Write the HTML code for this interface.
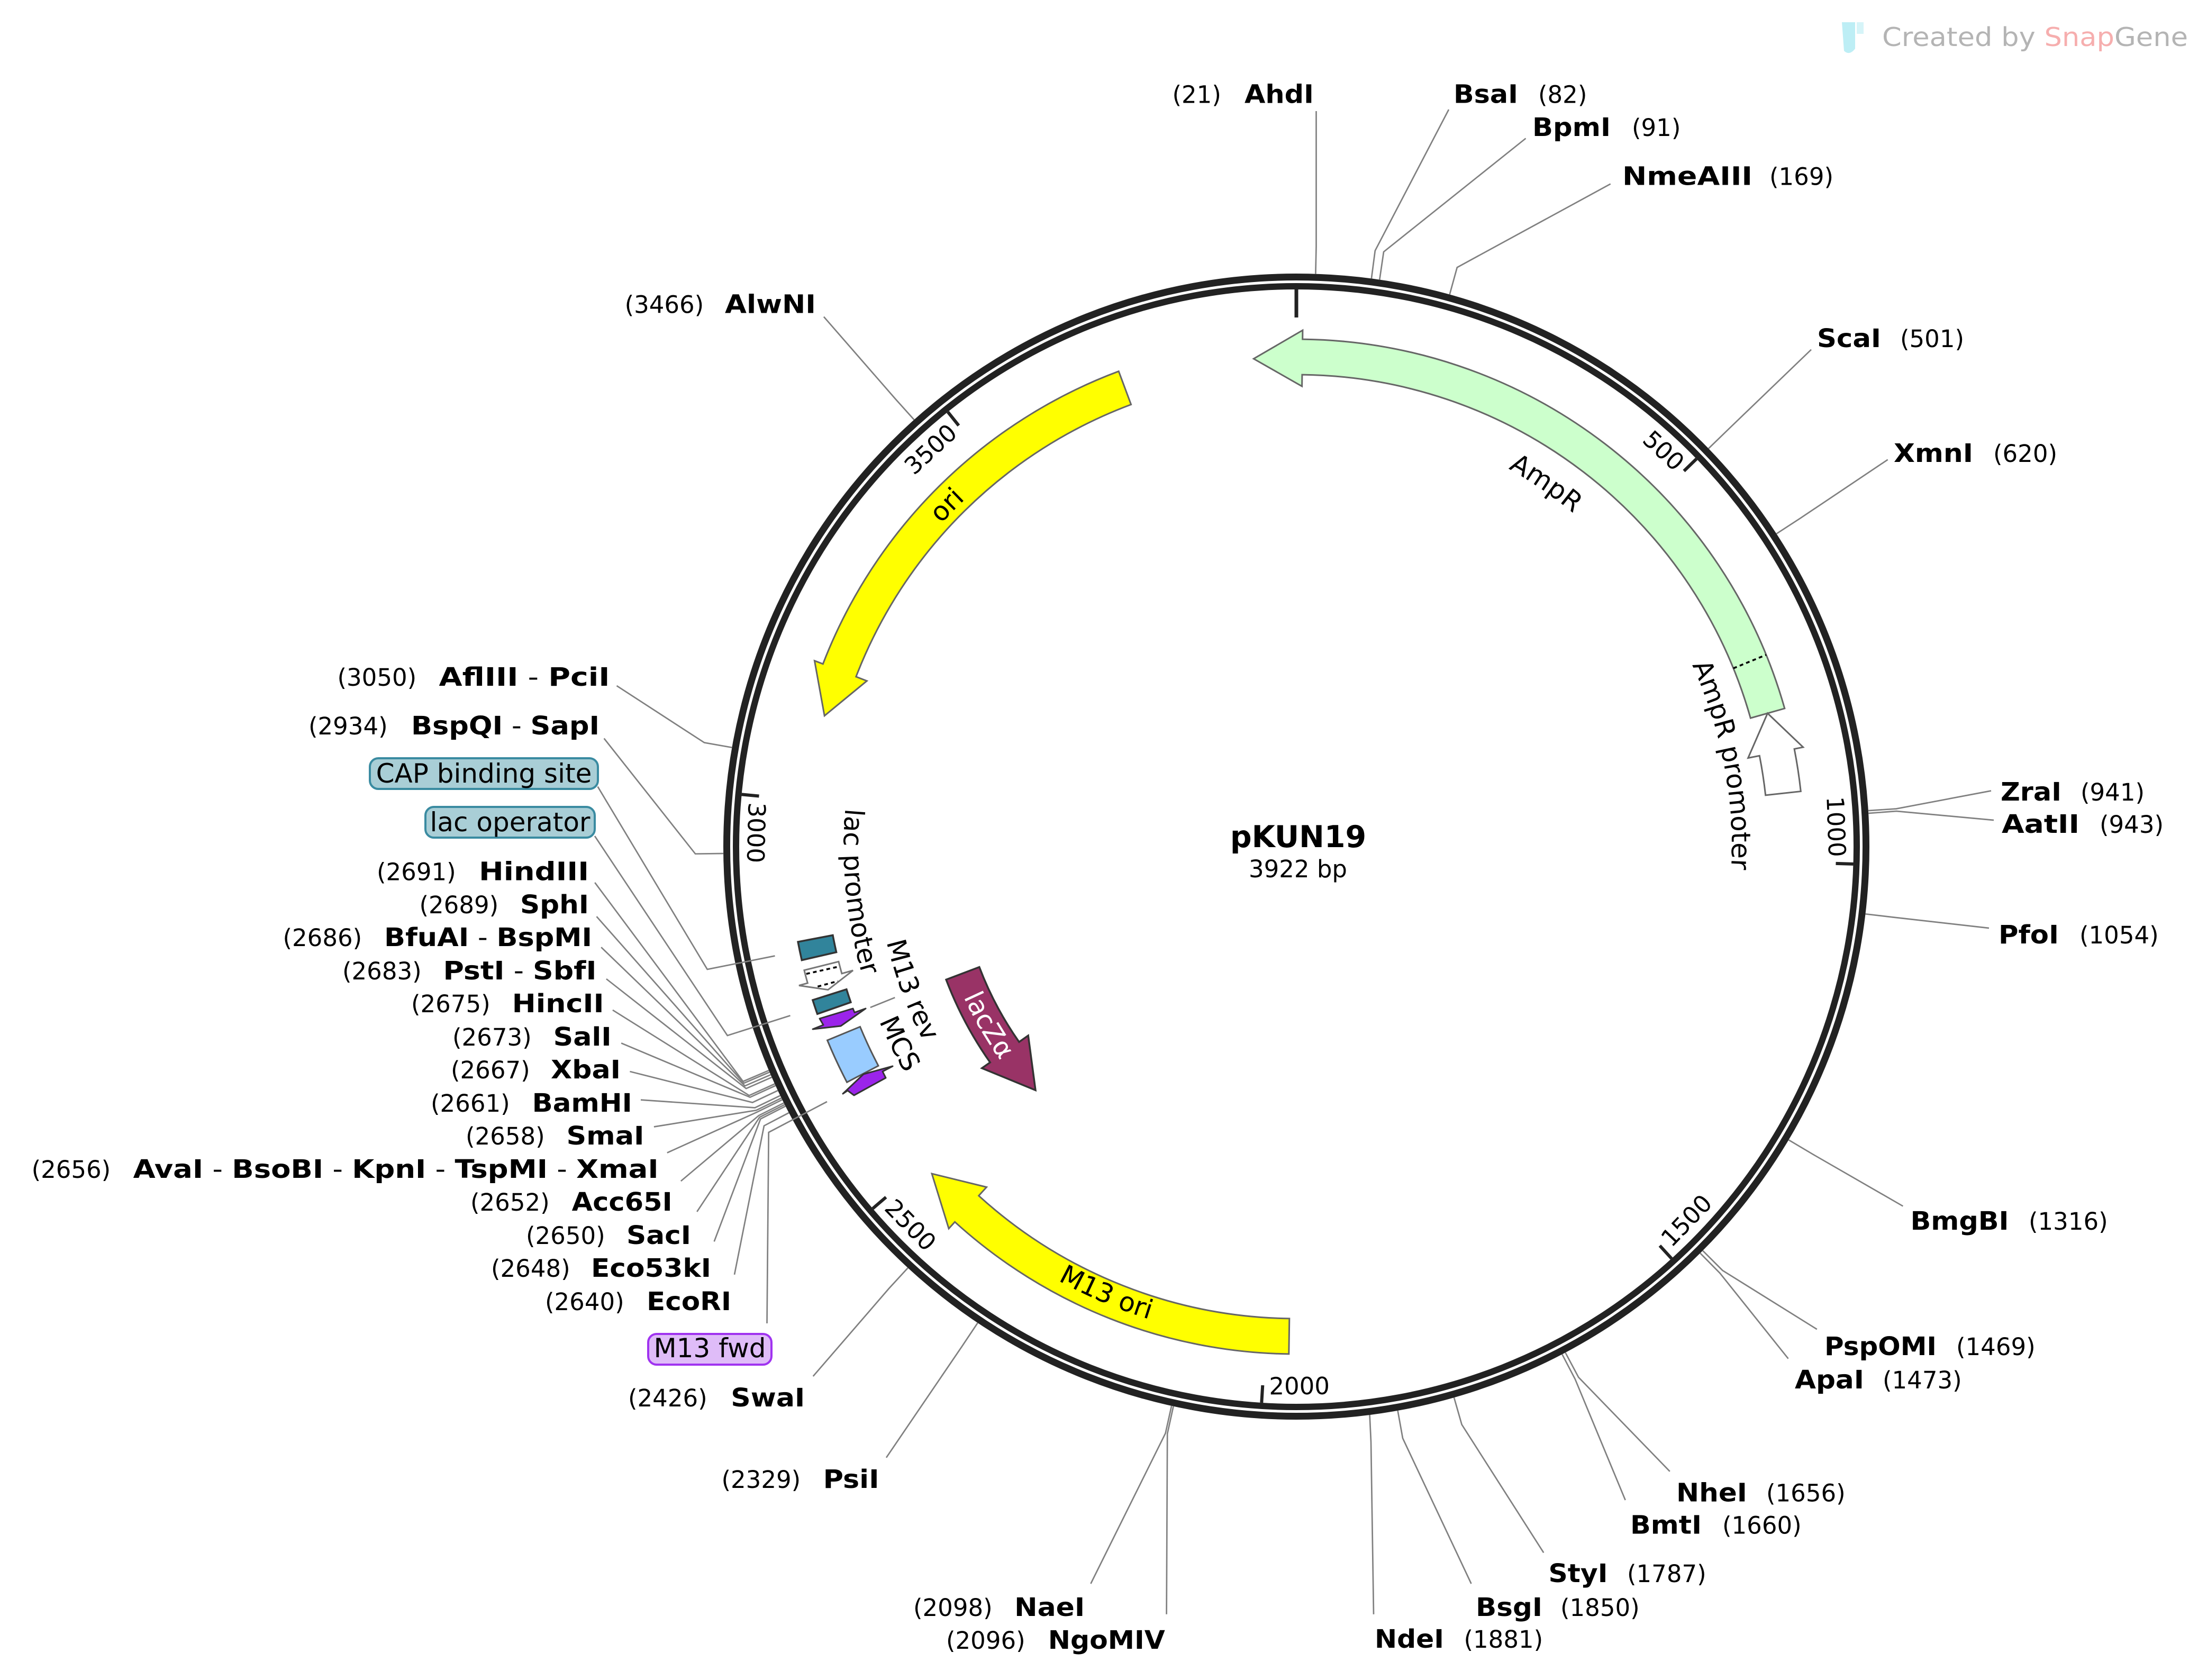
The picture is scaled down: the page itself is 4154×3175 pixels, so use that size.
<!DOCTYPE html>
<html><head><meta charset="utf-8">
<style>
html,body{margin:0;padding:0;background:#fff;}
svg{display:block;}
text{font-family:"DejaVu Sans","Liberation Sans",sans-serif;fill:#000;}
.n{font-size:45px;}
.b{font-size:48px;font-weight:bold;}
.f{font-size:50px;}
.ld{stroke:#808080;stroke-width:2.7;fill:none;}
</style></head><body>
<svg width="4154" height="3175" viewBox="0 0 4154 3175">
<rect x="0" y="0" width="4154" height="3175" fill="#fff"/>

<!-- logo -->
<path d="M3481,42 L3506,42 L3506,92 Q3495,106 3485,96 Z" fill="#bdeef5"/>
<rect x="3509" y="42" width="13" height="22" fill="#d6f4f8"/>
<text x="3557" y="87" font-size="49" textLength="578" lengthAdjust="spacingAndGlyphs" style="fill:#b4b4b4">Created by <tspan style="fill:#f6aeae">Snap</tspan>Gene</text>

<!-- paths for curved labels -->
<defs>
<path id="pAmpR" d="M2450,781 A819,819 0 0 1 3214.6,1306.5"/>
<path id="pAmpRp" d="M2969.6,962 A823,823 0 0 1 3168.4,2001.5"/>
<path id="pOri" d="M1571.2,1375 A907,907 0 0 1 2204.6,726.9"/>
<path id="pM13ori" d="M1702.5,2162.5 A935.4,935.4 0 0 0 2563.3,2528.5"/>
<path id="pLacZ" d="M1760,1601.2 A690,690 0 0 0 2106,2198.1"/>
<path id="pLacP" d="M1669.2,1250.7 A856,856 0 0 0 1755.8,2100.7"/>
<path id="pM13rev" d="M1666.1,1467.5 A795,795 0 0 0 1943.3,2212.6"/>
<path id="pMCS" d="M1597.1,1546.4 A854.6,854.6 0 0 0 1977.1,2311.8"/>
</defs>

<!-- ring -->
<circle cx="2450" cy="1600" r="1076.5" fill="none" stroke="#222" stroke-width="13"/>
<circle cx="2450" cy="1600" r="1059" fill="none" stroke="#222" stroke-width="12"/>

<!-- ticks -->
<g stroke="#222" stroke-width="6">
<line x1="2450" y1="547" x2="2450" y2="600" stroke-width="7"/>
<line x1="3182.5" y1="890.2" x2="3206.2" y2="867.2"/>
<line x1="3469.5" y1="1631.9" x2="3502.5" y2="1632.9"/>
<line x1="3136.8" y1="2354.1" x2="3159.1" y2="2378.5"/>
<line x1="2386.3" y1="2618" x2="2384.3" y2="2650.9"/>
<line x1="1674.5" y1="2262.5" x2="1649.4" y2="2284"/>
<line x1="1434.5" y1="1504.5" x2="1401.6" y2="1501.4"/>
<line x1="1811.9" y1="804.2" x2="1791.3" y2="778.5"/>
</g>
<g class="n" text-anchor="middle">
<text transform="translate(3144.2,851.3) rotate(42.83)" dy="16">500</text>
<text transform="translate(3470.3,1562.4) rotate(87.89)" dy="16">1000</text>
<text transform="translate(3187.1,2306.5) rotate(-46.22)" dy="16">1500</text>
<text transform="translate(2455.7,2619) rotate(-0.32)" dy="16">2000</text>
<text transform="translate(1721,2314.9) rotate(45.58)" dy="16">2500</text>
<text transform="translate(1429.3,1573.8) rotate(91.47)" dy="16">3000</text>
<text transform="translate(1758.6,848.7) rotate(-42.63)" dy="16">3500</text>
</g>

<!-- features -->
<path d="M3372.8,1338.9 A959,959 0 0 0 2461.7,641.1 L2461.9,624.1 L2369.3,678 L2460.6,730.1 L2460.9,708.1 A892,892 0 0 1 3308.3,1357.1 Z" fill="#ccffcc" stroke="#666" stroke-width="3"/>
<line x1="3275.9" y1="1263" x2="3337.9" y2="1237.6" stroke="#000" stroke-width="3.5" stroke-dasharray="7,6"/>
<path d="M3403.3,1495.6 A959,959 0 0 0 3391.1,1415.4 L3407.7,1412.1 L3340.5,1348 L3303.7,1432.5 L3325.3,1428.3 A892,892 0 0 1 3336.7,1502.9 Z" fill="#fff" stroke="#666" stroke-width="3"/>
<path d="M2114.2,701.7 A959,959 0 0 0 1555.3,1254.8 L1539.4,1248.7 L1558.2,1352.7 L1638.3,1286.8 L1617.8,1278.9 A892,892 0 0 1 2137.6,764.5 Z" fill="#ffff00" stroke="#666" stroke-width="3"/>
<path d="M2435.8,2558.9 A959,959 0 0 1 1804.6,2309.3 L1793.1,2321.9 L1761.1,2218.1 L1864.5,2243.5 L1849.7,2259.8 A892,892 0 0 0 2436.8,2491.9 Z" fill="#ffff00" stroke="#666" stroke-width="3"/>
<path d="M1788.1,1851.4 A708,708 0 0 0 1871.2,2007.8 L1855.7,2018.7 L1957,2060.4 L1943.2,1957.1 L1926,1969.2 A641,641 0 0 1 1850.8,1827.6 Z" fill="#993366" stroke="#333" stroke-width="3.5"/>
<path d="M1508.1,1780 A959,959 0 0 0 1515.3,1814.6 L1580.6,1799.6 A892,892 0 0 1 1573.9,1767.4 Z" fill="#31849b" stroke="#333" stroke-width="3.5"/>
<path d="M1519.9,1833.6 A959,959 0 0 0 1526.3,1857.9 L1510,1862.5 L1564.9,1870.6 L1612.1,1834 L1590.9,1839.9 A892,892 0 0 1 1584.9,1817.3 Z" fill="#fff" stroke="#777" stroke-width="3"/>
<line x1="1523.8" y1="1840.5" x2="1586.8" y2="1826.4" stroke="#000" stroke-width="3.5" stroke-dasharray="7,6"/>
<line x1="1545.3" y1="1864.5" x2="1583.5" y2="1854.2" stroke="#000" stroke-width="3.5" stroke-dasharray="7,6"/>
<path d="M1535.9,1890 A959,959 0 0 0 1544.7,1916.3 L1607.9,1894.2 A892,892 0 0 1 1599.8,1869.7 Z" fill="#31849b" stroke="#333" stroke-width="3.5"/>
<polygon points="1549,1925 1612,1906 1615,1913.5 1636,1906 1589,1939 1536,1945 1556,1937" fill="#9b24ea" stroke="#333" stroke-width="3" stroke-linejoin="round"/>
<path d="M1563.6,1966 L1625.5,1940.4 A892,892 0 0 0 1660,2014.2 L1600.6,2045.3 A959,959 0 0 1 1563.6,1966 Z" fill="#99ccff" stroke="#555" stroke-width="3"/>
<polygon points="1593,2067 1632,2030 1687,2015 1668,2025 1674,2037 1614,2070 1602,2061" fill="#9b24ea" stroke="#333" stroke-width="3" stroke-linejoin="round"/>

<!-- feature labels -->
<text class="f"><textPath href="#pAmpR" startOffset="50%" text-anchor="middle">AmpR</textPath></text>
<text class="f"><textPath href="#pAmpRp" startOffset="50%" text-anchor="middle">AmpR promoter</textPath></text>
<text class="f"><textPath href="#pOri" startOffset="50%" text-anchor="middle">ori</textPath></text>
<text class="f"><textPath href="#pM13ori" startOffset="50%" text-anchor="middle">M13 ori</textPath></text>
<text class="f" style="fill:#fff"><textPath href="#pLacZ" startOffset="50%" text-anchor="middle" style="fill:#fff">lacZα</textPath></text>
<text class="f"><textPath href="#pLacP" startOffset="50%" text-anchor="middle">lac promoter</textPath></text>
<text class="f"><textPath href="#pM13rev" startOffset="50%" text-anchor="middle">M13 rev</textPath></text>
<text class="f"><textPath href="#pMCS" startOffset="50%" text-anchor="middle">MCS</textPath></text>

<!-- center title -->
<text x="2453.5" y="1601" font-size="57" font-weight="bold" text-anchor="middle">pKUN19</text>
<text x="2453" y="1658" font-size="45" text-anchor="middle">3922 bp</text>

<!-- leader lines -->
<g class="ld">
<polyline points="2591.9,526.3 2598.8,473.8 2738,207"/>
<polyline points="2607.3,528.5 2615,476 2883.5,261.5"/>
<polyline points="2739.7,556.5 2753.8,505.4 3043.7,347.6"/>
<polyline points="2486.4,517.6 2487.5,466 2487.5,210"/>
<polyline points="3229,847.6 3267,810.8 3423,660.7"/>
<polyline points="3357.3,1008.8 3401.7,979.9 3567.7,868.6"/>
<polyline points="3530.8,1532 3583.7,1528.5 3763,1494.5"/>
<polyline points="3531.1,1537 3584,1533 3768,1550"/>
<polyline points="3525.5,1727.3 3578.1,1733.5 3759,1754"/>
<polyline points="3380.4,2154.3 3426,2181.4 3596.4,2279.5"/>
<polyline points="3218,2363.6 3255.5,2401 3433.8,2512.2"/>
<polyline points="3213.3,2368.4 3250.4,2406 3379.6,2567.7"/>
<polyline points="2958.4,2556.2 2983.3,2603 3155.8,2780.8"/>
<polyline points="2952.3,2559.5 2976.8,2606.4 3071.7,2835"/>
<polyline points="2748,2641.2 2762.6,2692.2 2917.3,2934.4"/>
<polyline points="2641.6,2665.9 2651,2718.1 2780.5,2993"/>
<polyline points="2588.6,2674 2591,2725 2596,3050.8"/>
<polyline points="2217.6,2657.8 2206.2,2709.5 2204.6,3050.8"/>
<polyline points="2214.1,2657 2202.6,2708.7 2061.4,2993"/>
<polyline points="1847.7,2500.1 1818.3,2544.1 1675,2754.7"/>
<polyline points="1715.8,2396.2 1679.9,2435.2 1536.7,2601"/>
<polyline points="1727.5,793.2 1692,753.7 1556.9,598.6"/>
<polyline points="1383.3,1412.7 1331.1,1403.5 1165.5,1296"/>
<polyline points="1367.1,1613 1314.1,1613.7 1141.6,1395.5"/>
<polyline points="1129.6,1486.6 1336.7,1832 1464.5,1806.5"/>
<polyline points="1124,1580 1374.7,1957 1493.5,1919.3"/>
<polyline points="1449.5,2501 1452.7,2140 1563,2082"/>
<polyline points="1644.8,1904 1691.3,1885.3"/>
<polyline points="1124.2,1667.9 1404.3,2043.8 1453,2023"/>
<polyline points="1127.5,1732.1 1405.7,2047.1 1454.4,2026.2"/>
<polyline points="1136.2,1790.2 1407.9,2052.2 1456.5,2031.1"/>
<polyline points="1145.9,1850 1410.1,2057.2 1458.6,2035.9"/>
<polyline points="1157.9,1908.9 1415.9,2070.4 1464.2,2048.4"/>
<polyline points="1174.1,1971.4 1417.5,2073.7 1465.7,2051.6"/>
<polyline points="1190.4,2025 1422.1,2083.6 1470,2061"/>
<polyline points="1211,2078.6 1426.8,2093.5 1474.6,2070.5"/>
<polyline points="1235.9,2129.5 1429.2,2098.3 1476.8,2075.1"/>
<polyline points="1260.8,2178.6 1430.8,2101.7 1478.4,2078.3"/>
<polyline points="1286.8,2232.1 1434,2108.2 1481.4,2084.4"/>
<polyline points="1317.2,2290 1435.6,2111.4 1483,2087.6"/>
<polyline points="1349.7,2346.4 1437.3,2114.7 1484.5,2090.6"/>
<polyline points="1388,2408.9 1444,2127.6 1490.9,2103"/>
</g>

<!-- right / top labels -->
<text class="b" x="2747" y="194.5" textLength="122" lengthAdjust="spacingAndGlyphs">BsaI</text><text class="n" x="2907" y="194.5">(82)</text>
<text class="b" x="2896" y="257" textLength="148" lengthAdjust="spacingAndGlyphs">BpmI</text><text class="n" x="3084" y="257">(91)</text>
<text class="b" x="3066" y="349.5" textLength="246" lengthAdjust="spacingAndGlyphs">NmeAIII</text><text class="n" x="3344" y="349.5">(169)</text>
<text class="b" x="3434" y="656" textLength="121" lengthAdjust="spacingAndGlyphs">ScaI</text><text class="n" x="3591" y="656">(501)</text>
<text class="b" x="3579" y="873" textLength="150" lengthAdjust="spacingAndGlyphs">XmnI</text><text class="n" x="3767" y="873">(620)</text>
<text class="b" x="3781" y="1513" textLength="115" lengthAdjust="spacingAndGlyphs">ZraI</text><text class="n" x="3932" y="1513">(941)</text>
<text class="b" x="3783" y="1574" textLength="147" lengthAdjust="spacingAndGlyphs">AatII</text><text class="n" x="3968" y="1574">(943)</text>
<text class="b" x="3777" y="1783" textLength="114" lengthAdjust="spacingAndGlyphs">PfoI</text><text class="n" x="3930" y="1783">(1054)</text>
<text class="b" x="3610.5" y="2324" textLength="186" lengthAdjust="spacingAndGlyphs">BmgBI</text><text class="n" x="3834" y="2324">(1316)</text>
<text class="b" x="3448" y="2561" textLength="212" lengthAdjust="spacingAndGlyphs">PspOMI</text><text class="n" x="3697" y="2561">(1469)</text>
<text class="b" x="3392" y="2624" textLength="131" lengthAdjust="spacingAndGlyphs">ApaI</text><text class="n" x="3558" y="2624">(1473)</text>
<text class="b" x="3168" y="2837.5" textLength="134" lengthAdjust="spacingAndGlyphs">NheI</text><text class="n" x="3338" y="2837.5">(1656)</text>
<text class="b" x="3081" y="2898.5" textLength="135" lengthAdjust="spacingAndGlyphs">BmtI</text><text class="n" x="3255" y="2898.5">(1660)</text>
<text class="b" x="2926.5" y="2990" textLength="112" lengthAdjust="spacingAndGlyphs">StyI</text><text class="n" x="3075" y="2990">(1787)</text>
<text class="b" x="2789" y="3054" textLength="126" lengthAdjust="spacingAndGlyphs">BsgI</text><text class="n" x="2949" y="3054">(1850)</text>
<text class="b" x="2598" y="3114" textLength="131" lengthAdjust="spacingAndGlyphs">NdeI</text><text class="n" x="2766.5" y="3114">(1881)</text>

<!-- left / bottom labels -->
<g>
<text class="n" x="2215.5" y="194.5">(21)</text><text class="b" x="2483" y="194.5" text-anchor="end" textLength="131" lengthAdjust="spacingAndGlyphs">AhdI</text>
<text class="n" x="1180.6" y="591.6">(3466)</text><text class="b" x="1542" y="591.6" text-anchor="end" textLength="172" lengthAdjust="spacingAndGlyphs">AlwNI</text>
<text class="n" x="637.5" y="1296">(3050)</text><text class="b" x="1152.5" y="1296" text-anchor="end" textLength="323" lengthAdjust="spacingAndGlyphs">AflIII<tspan font-weight="normal"> - </tspan>PciI</text>
<text class="n" x="583" y="1388">(2934)</text><text class="b" x="1133" y="1388" text-anchor="end" textLength="356" lengthAdjust="spacingAndGlyphs">BspQI<tspan font-weight="normal"> - </tspan>SapI</text>

<text class="n" x="712" y="1663.4">(2691)</text><text class="b" x="1113" y="1663.4" text-anchor="end" textLength="208" lengthAdjust="spacingAndGlyphs">HindIII</text>
<text class="n" x="792.5" y="1726">(2689)</text><text class="b" x="1113" y="1726" text-anchor="end" textLength="130" lengthAdjust="spacingAndGlyphs">SphI</text>
<text class="n" x="534.5" y="1788">(2686)</text><text class="b" x="1119" y="1788" text-anchor="end" textLength="393" lengthAdjust="spacingAndGlyphs">BfuAI<tspan font-weight="normal"> - </tspan>BspMI</text>
<text class="n" x="647" y="1851">(2683)</text><text class="b" x="1127.5" y="1851" text-anchor="end" textLength="290" lengthAdjust="spacingAndGlyphs">PstI<tspan font-weight="normal"> - </tspan>SbfI</text>
<text class="n" x="777" y="1913">(2675)</text><text class="b" x="1141.6" y="1913" text-anchor="end" textLength="174" lengthAdjust="spacingAndGlyphs">HincII</text>
<text class="n" x="855" y="1976">(2673)</text><text class="b" x="1155.7" y="1976" text-anchor="end" textLength="110" lengthAdjust="spacingAndGlyphs">SalI</text>
<text class="n" x="852" y="2038">(2667)</text><text class="b" x="1173" y="2038" text-anchor="end" textLength="132" lengthAdjust="spacingAndGlyphs">XbaI</text>
<text class="n" x="814" y="2101">(2661)</text><text class="b" x="1194.7" y="2101" text-anchor="end" textLength="189" lengthAdjust="spacingAndGlyphs">BamHI</text>
<text class="n" x="880" y="2163">(2658)</text><text class="b" x="1217.5" y="2163" text-anchor="end" textLength="147" lengthAdjust="spacingAndGlyphs">SmaI</text>
<text class="n" x="59.6" y="2226">(2656)</text><text class="b" x="1244.6" y="2226" text-anchor="end" textLength="993" lengthAdjust="spacingAndGlyphs">AvaI<tspan font-weight="normal"> - </tspan>BsoBI<tspan font-weight="normal"> - </tspan>KpnI<tspan font-weight="normal"> - </tspan>TspMI<tspan font-weight="normal"> - </tspan>XmaI</text>
<text class="n" x="889" y="2288">(2652)</text><text class="b" x="1270.6" y="2288" text-anchor="end" textLength="190" lengthAdjust="spacingAndGlyphs">Acc65I</text>
<text class="n" x="994" y="2351">(2650)</text><text class="b" x="1306" y="2351" text-anchor="end" textLength="122" lengthAdjust="spacingAndGlyphs">SacI</text>
<text class="n" x="928" y="2413">(2648)</text><text class="b" x="1344" y="2413" text-anchor="end" textLength="227" lengthAdjust="spacingAndGlyphs">Eco53kI</text>
<text class="n" x="1030" y="2476">(2640)</text><text class="b" x="1382" y="2476" text-anchor="end" textLength="160" lengthAdjust="spacingAndGlyphs">EcoRI</text>

<text class="n" x="1187" y="2658">(2426)</text><text class="b" x="1521.3" y="2658" text-anchor="end" textLength="140" lengthAdjust="spacingAndGlyphs">SwaI</text>
<text class="n" x="1363.5" y="2812">(2329)</text><text class="b" x="1661.6" y="2812" text-anchor="end" textLength="106" lengthAdjust="spacingAndGlyphs">PsiI</text>
<text class="n" x="1726" y="3054">(2098)</text><text class="b" x="2050.2" y="3054" text-anchor="end" textLength="133" lengthAdjust="spacingAndGlyphs">NaeI</text>
<text class="n" x="1788" y="3116">(2096)</text><text class="b" x="2201.8" y="3116" text-anchor="end" textLength="221" lengthAdjust="spacingAndGlyphs">NgoMIV</text>
</g>

<!-- feature label boxes -->
<rect x="699" y="1433" width="431" height="58" rx="16" ry="16" fill="#a9ced6" stroke="#3a8ba1" stroke-width="4"/>
<text x="914.5" y="1479" font-size="50" text-anchor="middle">CAP binding site</text>
<rect x="804" y="1525" width="320" height="58" rx="16" ry="16" fill="#a9ced6" stroke="#3a8ba1" stroke-width="4"/>
<text x="964" y="1571" font-size="50" text-anchor="middle">lac operator</text>
<rect x="1225" y="2521" width="233" height="58" rx="16" ry="16" fill="#dfbcf8" stroke="#a033f0" stroke-width="4"/>
<text x="1341.5" y="2565" font-size="50" text-anchor="middle">M13 fwd</text>
</svg>
</body></html>
